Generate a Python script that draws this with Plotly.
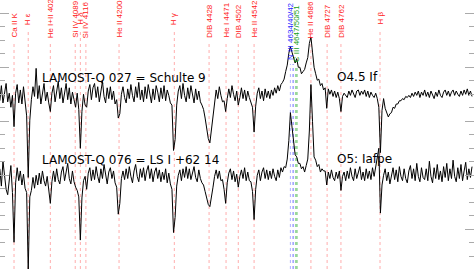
import numpy as np
import plotly.graph_objects as go

# ---------------- data ----------------
wave_start, wave_step, n_pts = 3898, 4, 300

# normalised flux in percent of continuum (LAMOST-Q 027 = Schulte 9)
top_flux_pct = [
    94, 108, 92, 103, 110, 93, 101, 88, 99, 70,
    101, 109, 92, 104, 91, 107, 95, 80, 23, 76,
    95, 107, 98, 124, 96, 108, 91, 103, 110, 94,
    102, 92, 84, 101, 108, 93, 104, 112, 96, 106,
    92, 103, 110, 95, 106, 91, 102, 95, 88, 101,
    86, 50, 84, 100, 90, 88, 103, 109, 95, 106,
    110, 97, 107, 93, 104, 112, 98, 92, 106, 96,
    107, 95, 103, 91, 95, 78, 82, 100, 107, 97,
    92, 105, 96, 109, 99, 93, 107, 97, 111, 95,
    104, 93, 107, 96, 109, 98, 92, 105, 95, 108,
    102, 93, 106, 96, 108, 94, 104, 99, 92, 90,
    48, 58, 90, 103, 108, 96, 110, 99, 93, 106,
    96, 108, 99, 92, 105, 95, 103, 93, 90, 86,
    78, 70, 59, 55, 68, 84, 95, 104, 96, 107,
    99, 93, 94, 84, 96, 105, 97, 108, 100, 94,
    103, 90, 97, 106, 96, 104, 94, 103, 97, 93,
    88, 65, 89, 101, 106, 96, 103, 94, 105, 97,
    103, 96, 104, 99, 106, 101, 108, 103, 109, 111,
    114, 121, 127, 138, 144, 139, 135, 129, 133, 125,
    125, 119, 121, 123, 129, 134, 147, 153, 139, 125,
    119, 113, 114, 108, 110, 104, 106, 87, 105, 100,
    104, 98, 103, 97, 102, 96, 84, 98, 101, 99,
    97, 103, 99, 104, 100, 97, 103, 104, 99, 103,
    100, 104, 98, 103, 97, 102, 99, 97, 101, 96,
    88, 46, 85, 96, 87, 83, 79, 82, 83, 88,
    87, 91, 91, 94, 94, 96, 95, 98, 97, 99,
    97, 101, 98, 102, 99, 103, 97, 102, 99, 104,
    98, 102, 97, 103, 99, 96, 102, 98, 104, 99,
    97, 102, 104, 99, 103, 98, 102, 104, 99, 103,
    100, 98, 103, 99, 104, 100, 105, 99, 103, 98,
]

# normalised flux in percent of continuum (LAMOST-Q 076 = LS I +62 14)
low_flux_pct = [
    106, 90, 113, 97, 87, 82, 99, 109, 84, 38,
    93, 107, 95, 104, 91, 101, 88, 84, 12, 80,
    86, 98, 88, 100, 91, 102, 92, 104, 95, 90,
    99, 86, 74, 94, 104, 94, 106, 96, 92, 103,
    108, 95, 104, 111, 97, 92, 104, 94, 89, 86,
    80, 40, 79, 95, 99, 87, 102, 107, 95, 105,
    96, 108, 99, 93, 106, 97, 110, 100, 92, 103,
    107, 97, 104, 93, 89, 64, 74, 97, 104, 96,
    106, 97, 108, 99, 93, 104, 110, 99, 94, 106,
    98, 107, 95, 104, 109, 97, 106, 94, 103, 107,
    97, 105, 94, 103, 96, 106, 93, 102, 92, 87,
    47, 61, 90, 100, 105, 95, 106, 98, 108, 97,
    106, 96, 103, 108, 98, 94, 105, 97, 93, 91,
    85, 79, 73, 71, 79, 89, 99, 105, 97, 104,
    95, 96, 87, 74, 93, 102, 106, 96, 104, 94,
    101, 89, 99, 105, 97, 107, 95, 103, 95, 94,
    85, 59, 87, 100, 105, 95, 103, 107, 97, 105,
    96, 104, 97, 106, 99, 95, 105, 98, 107, 103,
    108, 107, 115, 132, 158, 144, 127, 119, 117, 111,
    111, 106, 108, 103, 109, 115, 141, 184, 150, 117,
    114, 108, 110, 103, 106, 104, 104, 91, 103, 97,
    105, 98, 95, 103, 97, 104, 86, 99, 103, 95,
    104, 97, 107, 99, 95, 106, 97, 103, 108, 96,
    103, 95, 106, 97, 104, 96, 107, 99, 108, 115,
    125, 65, 91, 100, 106, 95, 103, 92, 101, 107,
    96, 105, 94, 108, 99, 95, 106, 97, 93, 104,
    109, 97, 106, 95, 111, 99, 94, 107, 98, 96,
    106, 95, 113, 99, 93, 107, 97, 110, 96, 104,
    94, 108, 98, 111, 95, 106, 97, 114, 99, 94,
    107, 97, 110, 95, 104, 112, 96, 106, 98, 108,
]

top_offset = 0.75   # vertical shift of the upper spectrum
low_offset = 0.0

line_wave = [3934, 3970, 4026, 4089, 4102, 4116, 4200, 4340, 4428, 4471,
             4502, 4542, 4686, 4727, 4762, 4861]
line_label = ["Ca II K", "H ε", "He I+II 4026", "Si IV 4089", "H δ", "Si IV 4116",
              "He II 4200", "H γ", "DIB 4428", "He I 4471", "DIB 4502", "He II 4542",
              "He II 4686", "DIB 4727", "DIB 4762", "H β"]
niii_wave = [4634, 4640, 4642]
niii_label = "N III 4634/40/42"
ciii_wave = [4647, 4650, 4651]
ciii_label = "C III 4647/50/51"

star_labels = ["LAMOST-Q 027 = Schulte 9", "LAMOST-Q 076 = LS I +62 14"]
type_labels = ["O4.5 If", "O5: Iafpe"]

# ---------------- figure ----------------
W, H = 474, 269
X_RANGE = [3898.5, 5099.0]
Y_TOP = 2.623
Y_BOT = Y_TOP - H / 108.0

wave = wave_start + wave_step * np.arange(n_pts)
top_flux = np.array(top_flux_pct) / 100.0 + top_offset
low_flux = np.array(low_flux_pct) / 100.0 + low_offset


def pfrac(px):
    return 1 - px / H


fig = go.Figure()
shapes, annos = [], []

RED_LINE = "rgba(255,70,70,0.45)"
RED_TXT = "#ff2020"
BLUE_LINE = "rgba(80,80,255,0.45)"
GREEN_LINE = "rgba(60,180,60,0.5)"

LAB_FONT = dict(family="Liberation Sans, Arial, sans-serif", size=8)

for w, lab in zip(line_wave, line_label):
    is_h = lab.startswith("H ") and len(lab) <= 3
    bottom_px = 27 if is_h else 40
    shapes.append(dict(type="line", xref="x", yref="paper", x0=w, x1=w,
                       y0=0, y1=pfrac(bottom_px + 2), layer="below",
                       line=dict(color=RED_LINE, width=1, dash="dot")))
    annos.append(dict(x=w, y=pfrac(bottom_px), xref="x", yref="paper", text=lab,
                      textangle=-90, xanchor="center", yanchor="bottom",
                      showarrow=False, font=dict(color=RED_TXT, **LAB_FONT)))

for ws, lab, lc, tc, bottom_px, xl in [
        (niii_wave, niii_label, BLUE_LINE, "#1a1aff", 62, 4634),
        (ciii_wave, ciii_label, GREEN_LINE, "#11a011", 64, 4650)]:
    for w in ws:
        shapes.append(dict(type="line", xref="x", yref="paper", x0=w, x1=w,
                           y0=0, y1=pfrac(bottom_px + 2), layer="below",
                           line=dict(color=lc, width=1, dash="dot")))
    annos.append(dict(x=xl, y=pfrac(bottom_px), xref="x", yref="paper", text=lab,
                      textangle=-90, xanchor="center", yanchor="bottom",
                      showarrow=False, font=dict(color=tc, **LAB_FONT)))

TXT_FONT = dict(family="DejaVu Sans, sans-serif", size=12, color="black")
for lab, tlab, ypx in zip(star_labels, type_labels, [78, 160]):
    annos.append(dict(x=40 / W, y=pfrac(ypx), xref="paper", yref="paper", text=lab,
                      xanchor="left", yanchor="middle", showarrow=False, font=TXT_FONT))
    annos.append(dict(x=335 / W, y=pfrac(ypx - 1), xref="paper", yref="paper", text=tlab,
                      xanchor="left", yanchor="middle", showarrow=False, font=TXT_FONT))

fig.add_trace(go.Scatter(x=wave, y=top_flux, mode="lines",
                         line=dict(color="black", width=1), hoverinfo="skip"))
fig.add_trace(go.Scatter(x=wave, y=low_flux, mode="lines",
                         line=dict(color="black", width=1), hoverinfo="skip"))

fig.update_layout(
    width=W, height=H, margin=dict(l=0, r=0, t=0, b=0),
    paper_bgcolor="white", plot_bgcolor="white", showlegend=False,
    shapes=shapes, annotations=annos,
    xaxis=dict(range=X_RANGE, showgrid=False, zeroline=False, showticklabels=False,
               ticks="", showline=False, fixedrange=True),
    yaxis=dict(range=[Y_BOT, Y_TOP], showgrid=False, zeroline=False,
               showticklabels=False, ticks="inside", ticklen=9, tickwidth=1,
               tickcolor="#aaaaaa", tick0=0, dtick=0.5, mirror="ticks",
               showline=False, fixedrange=True,
               minor=dict(ticks="inside", ticklen=5, tickcolor="#aaaaaa",
                          dtick=0.125, tick0=0, showgrid=False)),
)

fig.write_html("out.html")
